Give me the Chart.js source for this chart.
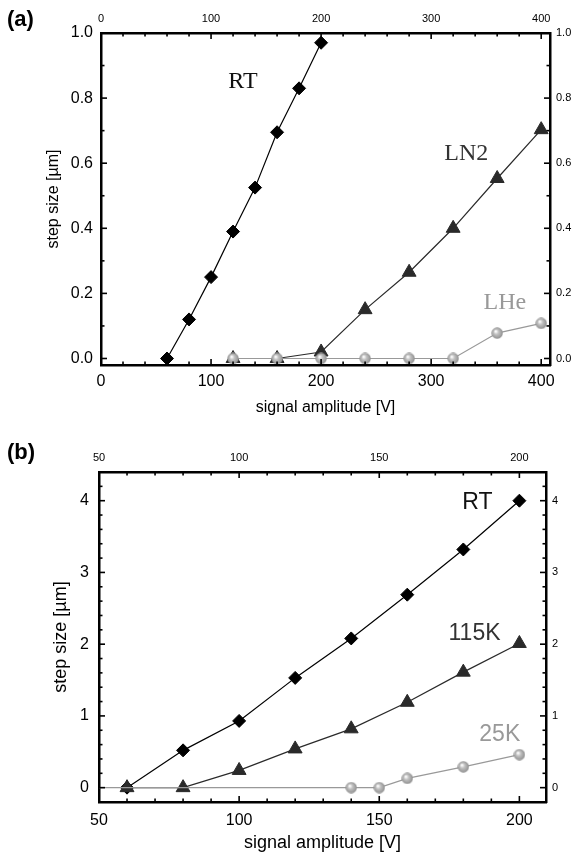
<!DOCTYPE html>
<html>
<head>
<meta charset="utf-8">
<script src="https://cdn.jsdelivr.net/npm/chart.js@4.4.1/dist/chart.umd.min.js"></script>
<style>
  html, body { margin: 0; padding: 0; background: #fff; }
  body { width: 580px; height: 859px; position: relative; overflow: hidden; font-family: "Liberation Sans", Arial, sans-serif; }
  .panel { position: absolute; left: 0; width: 580px; }
  #wrapA { top: 0; height: 430px; }
  #wrapB { top: 430px; height: 429px; }
  .tag { position: absolute; left: 7px; font-weight: bold; font-size: 22px; line-height: 26px; }
</style>
</head>
<body>
<div class="panel" id="wrapA"><canvas id="chartA" width="580" height="430"></canvas></div>
<div class="panel" id="wrapB"><canvas id="chartB" width="580" height="429"></canvas></div>
<div class="tag" style="top:6px">(a)</div>
<div class="tag" style="top:439px">(b)</div>
<script>
// panel (a): step size vs signal amplitude at RT, LN2, LHe
const voltsA_RT = [60, 80, 100, 120, 140, 160, 180, 200];
const stepA_RT = [0.0, 0.12, 0.25, 0.39, 0.525, 0.695, 0.83, 0.97];
const voltsA_LN2 = [120, 160, 200, 240, 280, 320, 360, 400];
const stepA_LN2 = [0.0, 0.0, 0.02, 0.15, 0.265, 0.40, 0.553, 0.703];
const voltsA_LHe = [120, 160, 200, 240, 280, 320, 360, 400];
const stepA_LHe = [0.0, 0.0, 0.0, 0.0, 0.0, 0.0, 0.078, 0.108];

// panel (b): RT, 115K, 25K
const voltsB_RT = [60, 80, 100, 120, 140, 160, 180, 200];
const stepB_RT = [0.0, 0.52, 0.93, 1.53, 2.08, 2.69, 3.32, 4.0];
const voltsB_115K = [60, 80, 100, 120, 140, 160, 180, 200];
const stepB_115K = [0.0, 0.0, 0.24, 0.54, 0.82, 1.19, 1.61, 2.01];
const voltsB_25K = [50, 140, 150, 160, 180, 200];
const stepB_25K = [0.0, 0.0, 0.0, 0.13, 0.29, 0.46];

Chart.defaults.font.family = '"Liberation Sans", Arial, sans-serif';
Chart.defaults.color = '#000';

const pts = (xs, ys) => xs.map((x, i) => ({ x: x, y: ys[i] }));

// small shaded ball used for the low temperature curves
function ball(size) {
  const c = document.createElement('canvas');
  c.width = size; c.height = size;
  const g = c.getContext('2d');
  const r = size / 2;
  const grad = g.createRadialGradient(r * 0.75, r * 0.7, 0.5, r, r, r);
  grad.addColorStop(0, '#ffffff');
  grad.addColorStop(0.35, '#c2c2c2');
  grad.addColorStop(1, '#8c8c8c');
  g.fillStyle = grad;
  g.beginPath();
  g.arc(r, r, r - 0.3, 0, Math.PI * 2);
  g.fill();
  return c;
}

// Origin-style ticks pointing into the plot
const innerTicks = {
  id: 'innerTicks',
  afterDatasetsDraw(chart, args, opts) {
    const { ctx, chartArea: a } = chart;
    ctx.save();
    ctx.strokeStyle = '#000';
    ctx.lineWidth = 1.6;
    Object.keys(opts.minor || {}).forEach(id => {
      const s = chart.scales[id];
      const step = opts.minor[id];
      const major = s.ticks.map(t => t.value);
      const k0 = Math.ceil(s.min / step - 1e-9), k1 = Math.floor(s.max / step + 1e-9);
      for (let k = k0; k <= k1; k++) {
        const v = k * step;
        const len = major.some(m => Math.abs(m - v) < step / 100) ? 6 : 3.5;
        const p = s.getPixelForValue(v);
        ctx.beginPath();
        if (s.position === 'bottom') { ctx.moveTo(p, a.bottom); ctx.lineTo(p, a.bottom - len); }
        else if (s.position === 'top') { ctx.moveTo(p, a.top); ctx.lineTo(p, a.top + len); }
        else if (s.position === 'left') { ctx.moveTo(a.left, p); ctx.lineTo(a.left + len, p); }
        else { ctx.moveTo(a.right, p); ctx.lineTo(a.right - len, p); }
        ctx.stroke();
      }
    });
    ctx.restore();
  }
};

// curve names placed in data units
const curveLabels = {
  id: 'curveLabels',
  afterDatasetsDraw(chart, args, opts) {
    const { ctx } = chart;
    const xs = chart.scales.x, ys = chart.scales.y;
    ctx.save();
    ctx.textAlign = 'center';
    ctx.textBaseline = 'middle';
    ctx.font = opts.font;
    (opts.items || []).forEach(it => {
      ctx.fillStyle = it.color;
      ctx.fillText(it.text, xs.getPixelForValue(it.x), ys.getPixelForValue(it.y));
    });
    ctx.restore();
  }
};

function axis(pos, min, max, step, size, pad, box, fmt, title, titleSize) {
  const horizontal = pos === 'top' || pos === 'bottom';
  return {
    type: 'linear',
    position: pos,
    min: min,
    max: max,
    ticks: {
      autoSkip: false,
      maxRotation: 0,
      padding: pad,
      color: '#000',
      font: { size: size },
      callback: fmt || (v => v)
    },
    // major ticks at exact multiples of the step
    afterBuildTicks: s => {
      const t = [];
      for (let k = Math.ceil(min / step - 1e-9); k * step <= max + 1e-9; k++) t.push({ value: +(k * step).toFixed(6) });
      s.ticks = t;
    },
    grid: { drawOnChartArea: false, drawTicks: false },
    border: { color: '#000', width: 2.5 },
    title: title ? { display: true, text: title, color: '#000', font: { size: titleSize }, padding: { top: 4, bottom: 4 } } : { display: false },
    afterFit: s => { if (horizontal) s.height = box; else s.width = box; }
  };
}

function line(label, xs, ys, color, style, radius, order) {
  return {
    label: label,
    data: pts(xs, ys),
    borderColor: color,
    borderWidth: 1.2,
    backgroundColor: color,
    pointStyle: style,
    pointRadius: radius,
    pointBorderColor: color,
    pointBackgroundColor: color,
    pointBorderWidth: 1,
    tension: 0,
    order: order
  };
}

const fmt1 = v => v.toFixed(1);
const ballImg = ball(12);

new Chart(document.getElementById('chartA'), {
  type: 'line',
  data: {
    datasets: [
      line('RT', voltsA_RT, stepA_RT, '#000', 'rectRot', 6.5, 3),
      line('LN2', voltsA_LN2, stepA_LN2, '#2a2a2a', 'triangle', 8, 2),
      line('LHe', voltsA_LHe, stepA_LHe, '#999', ballImg, 6, 1)
    ]
  },
  options: {
    responsive: false,
    animation: false,
    layout: { padding: { left: 40, right: 0, top: 0, bottom: 9 } },
    scales: {
      x: axis('bottom', 0, 408, 100, 16, 7, 56, null, 'signal amplitude [V]', 16),
      x2: axis('top', 0, 408, 100, 11, 7, 33),
      y: axis('left', -0.02, 1.0, 0.2, 16, 8, 61, fmt1, 'step size [µm]', 16),
      y2: axis('right', -0.02, 1.0, 0.2, 11, 6, 30, fmt1)
    },
    plugins: {
      legend: { display: false },
      tooltip: { enabled: false },
      innerTicks: { minor: { x: 20, x2: 20, y: 0.1, y2: 0.1 } },
      curveLabels: {
        font: '24px "Liberation Serif", "Times New Roman", serif',
        items: [
          { text: 'RT', x: 129, y: 0.85, color: '#111' },
          { text: 'LN2', x: 332, y: 0.63, color: '#333' },
          { text: 'LHe', x: 367, y: 0.17, color: '#999' }
        ]
      }
    }
  },
  plugins: [innerTicks, curveLabels]
});

new Chart(document.getElementById('chartB'), {
  type: 'line',
  data: {
    datasets: [
      line('RT', voltsB_RT, stepB_RT, '#000', 'rectRot', 6.5, 3),
      line('115K', voltsB_115K, stepB_115K, '#2a2a2a', 'triangle', 8, 2),
      Object.assign(line('25K', voltsB_25K, stepB_25K, '#999', ballImg, 6, 1), { pointRadius: [0, 6, 6, 6, 6, 6] })
    ]
  },
  options: {
    responsive: false,
    animation: false,
    layout: { padding: { left: 46, right: 0, top: 0, bottom: 1 } },
    scales: {
      x: axis('bottom', 50, 209.5, 50, 16, 9, 56, null, 'signal amplitude [V]', 18),
      x2: axis('top', 50, 209.5, 50, 11, 7, 42),
      y: axis('left', -0.2, 4.4, 1, 16, 10, 53, null, 'step size [µm]', 18),
      y2: axis('right', -0.2, 4.4, 1, 11, 6, 34)
    },
    plugins: {
      legend: { display: false },
      tooltip: { enabled: false },
      innerTicks: { minor: { x: 10, x2: 10, y: 0.2, y2: 0.2 } },
      curveLabels: {
        font: '23px "Liberation Sans", Arial, sans-serif',
        items: [
          { text: 'RT', x: 185, y: 3.97, color: '#111' },
          { text: '115K', x: 184, y: 2.15, color: '#333' },
          { text: '25K', x: 193, y: 0.74, color: '#999' }
        ]
      }
    }
  },
  plugins: [innerTicks, curveLabels]
});
</script>
</body>
</html>
